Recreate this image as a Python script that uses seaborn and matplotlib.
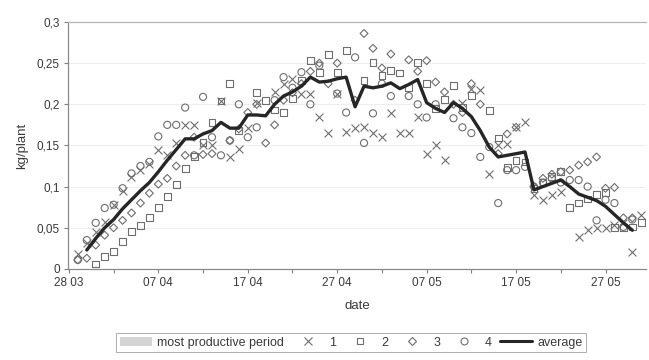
import numpy as np
import pandas as pd
import matplotlib
matplotlib.use("Agg")
import matplotlib.pyplot as plt
import matplotlib.dates as mdates
from matplotlib.lines import Line2D
from matplotlib.patches import Patch
import seaborn as sns

nan = np.nan

# daily harvest per plant, 29 March - 31 May
dates = pd.date_range("2003-03-29", "2003-05-31", freq="D")

plant1 = [.018, .032, .045, .057, .078, .095, .112, .120,
          .128, .144, .138, .153, .175, .175, .150, .150,
          .204, .136, .146, .171, .202, nan, .215, .225,
          .231, .213, .213, .184, .165, .213, .166, .171,
          .172, .165, .160, .189, .165, .165, .184, .140,
          .150, .132, nan, .202, .219, .217, .115, .150,
          .152, .173, .178, .090, .084, .090, .093, nan,
          .039, .047, .050, .050, .053, .056, .021, .065]

plant2 = [nan, nan, .006, .015, .021, .033, .045, .053,
          .062, .075, .088, .103, .122, .137, .154, .178,
          .204, .225, .168, nan, .214, .205, .193, .190,
          .207, .229, .253, .239, .260, .239, .265, nan,
          .229, .251, .235, .241, .238, .220, .251, .225,
          .195, .206, .223, .196, .211, nan, .192, .159,
          .123, .132, .130, .098, .105, .112, .118, .075,
          .080, .085, .090, .093, .050, .050, .051, .056]

plant3 = [.011, .013, .029, .041, .050, .059, .068, .080,
          .092, .103, .110, .125, .138, .160, .139, .140,
          nan, .156, .170, .190, .200, .153, .175, .205,
          .214, .225, .240, .250, .225, .250, nan, .205,
          .286, .268, .244, .261, nan, .254, .240, .253,
          .227, .215, .200, .190, .225, .200, nan, .140,
          .164, .172, nan, .100, .110, .115, .118, .120,
          .126, .130, .136, .098, .099, .062, .062, nan]

plant4 = [.011, .035, .056, .074, .078, .098, .116, .125,
          .130, .161, .175, .175, .196, .138, .209, .160,
          .138, .156, .200, .160, .172, nan, .205, .233,
          .220, .239, .200, .247, nan, .213, .190, .257,
          .153, .189, .225, .210, nan, .210, .200, .184,
          .200, nan, .183, .172, .165, .136, .148, .080,
          .120, .120, .124, .100, .105, .110, .105, .108,
          .108, .100, .059, .084, .080, .051, .060, nan]

average = [nan, .023, .037, .050, .060, .073, .084, .095,
           .105, .118, .132, .145, .158, .158, .164, .168,
           .178, .171, .171, .187, .187, .186, .200, .210,
           .215, .222, .233, .227, .228, .231, .233, .197,
           .222, .220, .222, .226, .219, .224, .230, .202,
           .195, .190, .202, .195, .185, .168, .148, .136,
           .138, .140, .142, .096, .100, .104, .108, .100,
           .091, .087, .083, .076, .066, .056, .047, nan]

series_labels = ["1", "2", "3", "4"]
series_markers = ["x", "s", "D", "o"]
y_ticks = [0, 0.05, 0.1, 0.15, 0.2, 0.25, 0.3]
y_tick_labels = ["0", "0,05", "0,1", "0,15", "0,2", "0,25", "0,3"]

df = pd.DataFrame({"date": dates, "1": plant1, "2": plant2,
                   "3": plant3, "4": plant4, "average": average})

sns.set_theme(style="white")
plt.rcParams["font.family"] = ["Liberation Sans", "DejaVu Sans"]

marker_col = "#6e6e6e"
line_col = "#262626"
text_col = "#3a3a3a"

fig = plt.figure(figsize=(6.49, 3.6), dpi=100)
ax = fig.add_axes([0.105, 0.253, 0.89, 0.686])

# light horizontal gridlines behind the data
for yv in y_ticks[1:-1]:
    ax.axhline(yv, color="#eeeeee", lw=0.8, zorder=0)

sizes = {"x": 32, "s": 24, "D": 16, "o": 26}
for lab, mk in zip(series_labels, series_markers):
    if mk == "x":
        sns.scatterplot(data=df, x="date", y=lab, marker=mk, color=marker_col,
                        s=sizes[mk], linewidth=0.8, ax=ax, zorder=3)
    else:
        sns.scatterplot(data=df, x="date", y=lab, marker=mk, s=sizes[mk],
                        facecolor="none", edgecolor=marker_col,
                        linewidth=0.8, ax=ax, zorder=3)

sns.lineplot(data=df, x="date", y="average", color=line_col, lw=2.4,
             ax=ax, zorder=4)

start = pd.Timestamp("2003-03-28")
ax.set_xlim(start - pd.Timedelta(hours=2), start + pd.Timedelta(days=64.5))
ax.set_ylim(0, 0.3)

major = pd.date_range(start, periods=7, freq="10D")
minor = pd.date_range(start, periods=13, freq="5D")
ax.set_xticks(major)
ax.set_xticks(minor, minor=True)
ax.xaxis.set_major_formatter(mdates.DateFormatter("%d %m"))
ax.set_yticks(y_ticks)
ax.set_yticklabels(y_tick_labels)

ax.tick_params(axis="both", which="both", direction="out", length=3,
               width=0.8, color="#808080", labelsize=8.5, labelcolor=text_col,
               pad=3)
ax.tick_params(axis="x", which="both", bottom=True)
ax.tick_params(axis="y", left=True)

for side in ["left", "bottom", "top"]:
    ax.spines[side].set_color("#8a8a8a")
    ax.spines[side].set_linewidth(0.9)
ax.spines["top"].set_color("#b5b5b5")
ax.spines["right"].set_visible(False)

ax.set_xlabel("date", fontsize=9.5, color=text_col, labelpad=8)
ax.set_ylabel("kg/plant", fontsize=9.5, color=text_col, labelpad=6)

handles = [Patch(facecolor="#d4d4d4", edgecolor="none")]
for mk in series_markers:
    if mk == "x":
        handles.append(Line2D([], [], ls="none", marker=mk, color=marker_col,
                              markersize=5.5, markeredgewidth=0.8))
    else:
        handles.append(Line2D([], [], ls="none", marker=mk,
                              markerfacecolor="none",
                              markeredgecolor=marker_col,
                              markersize=4.2 if mk == "D" else 5,
                              markeredgewidth=0.8))
handles.append(Line2D([], [], color=line_col, lw=2.2))
labels = ["most productive period"] + series_labels + ["average"]

leg = fig.legend(handles, labels, loc="lower center", ncol=6,
                 bbox_to_anchor=(0.541, 0.004), fontsize=9, frameon=True,
                 fancybox=False, edgecolor="#9a9a9a", handlelength=2.6,
                 handletextpad=0.4, columnspacing=0.6, borderpad=0.3)
leg.get_frame().set_linewidth(0.7)
for t in leg.get_texts():
    t.set_color(text_col)

fig.savefig("out.png", dpi=100, facecolor="white")
